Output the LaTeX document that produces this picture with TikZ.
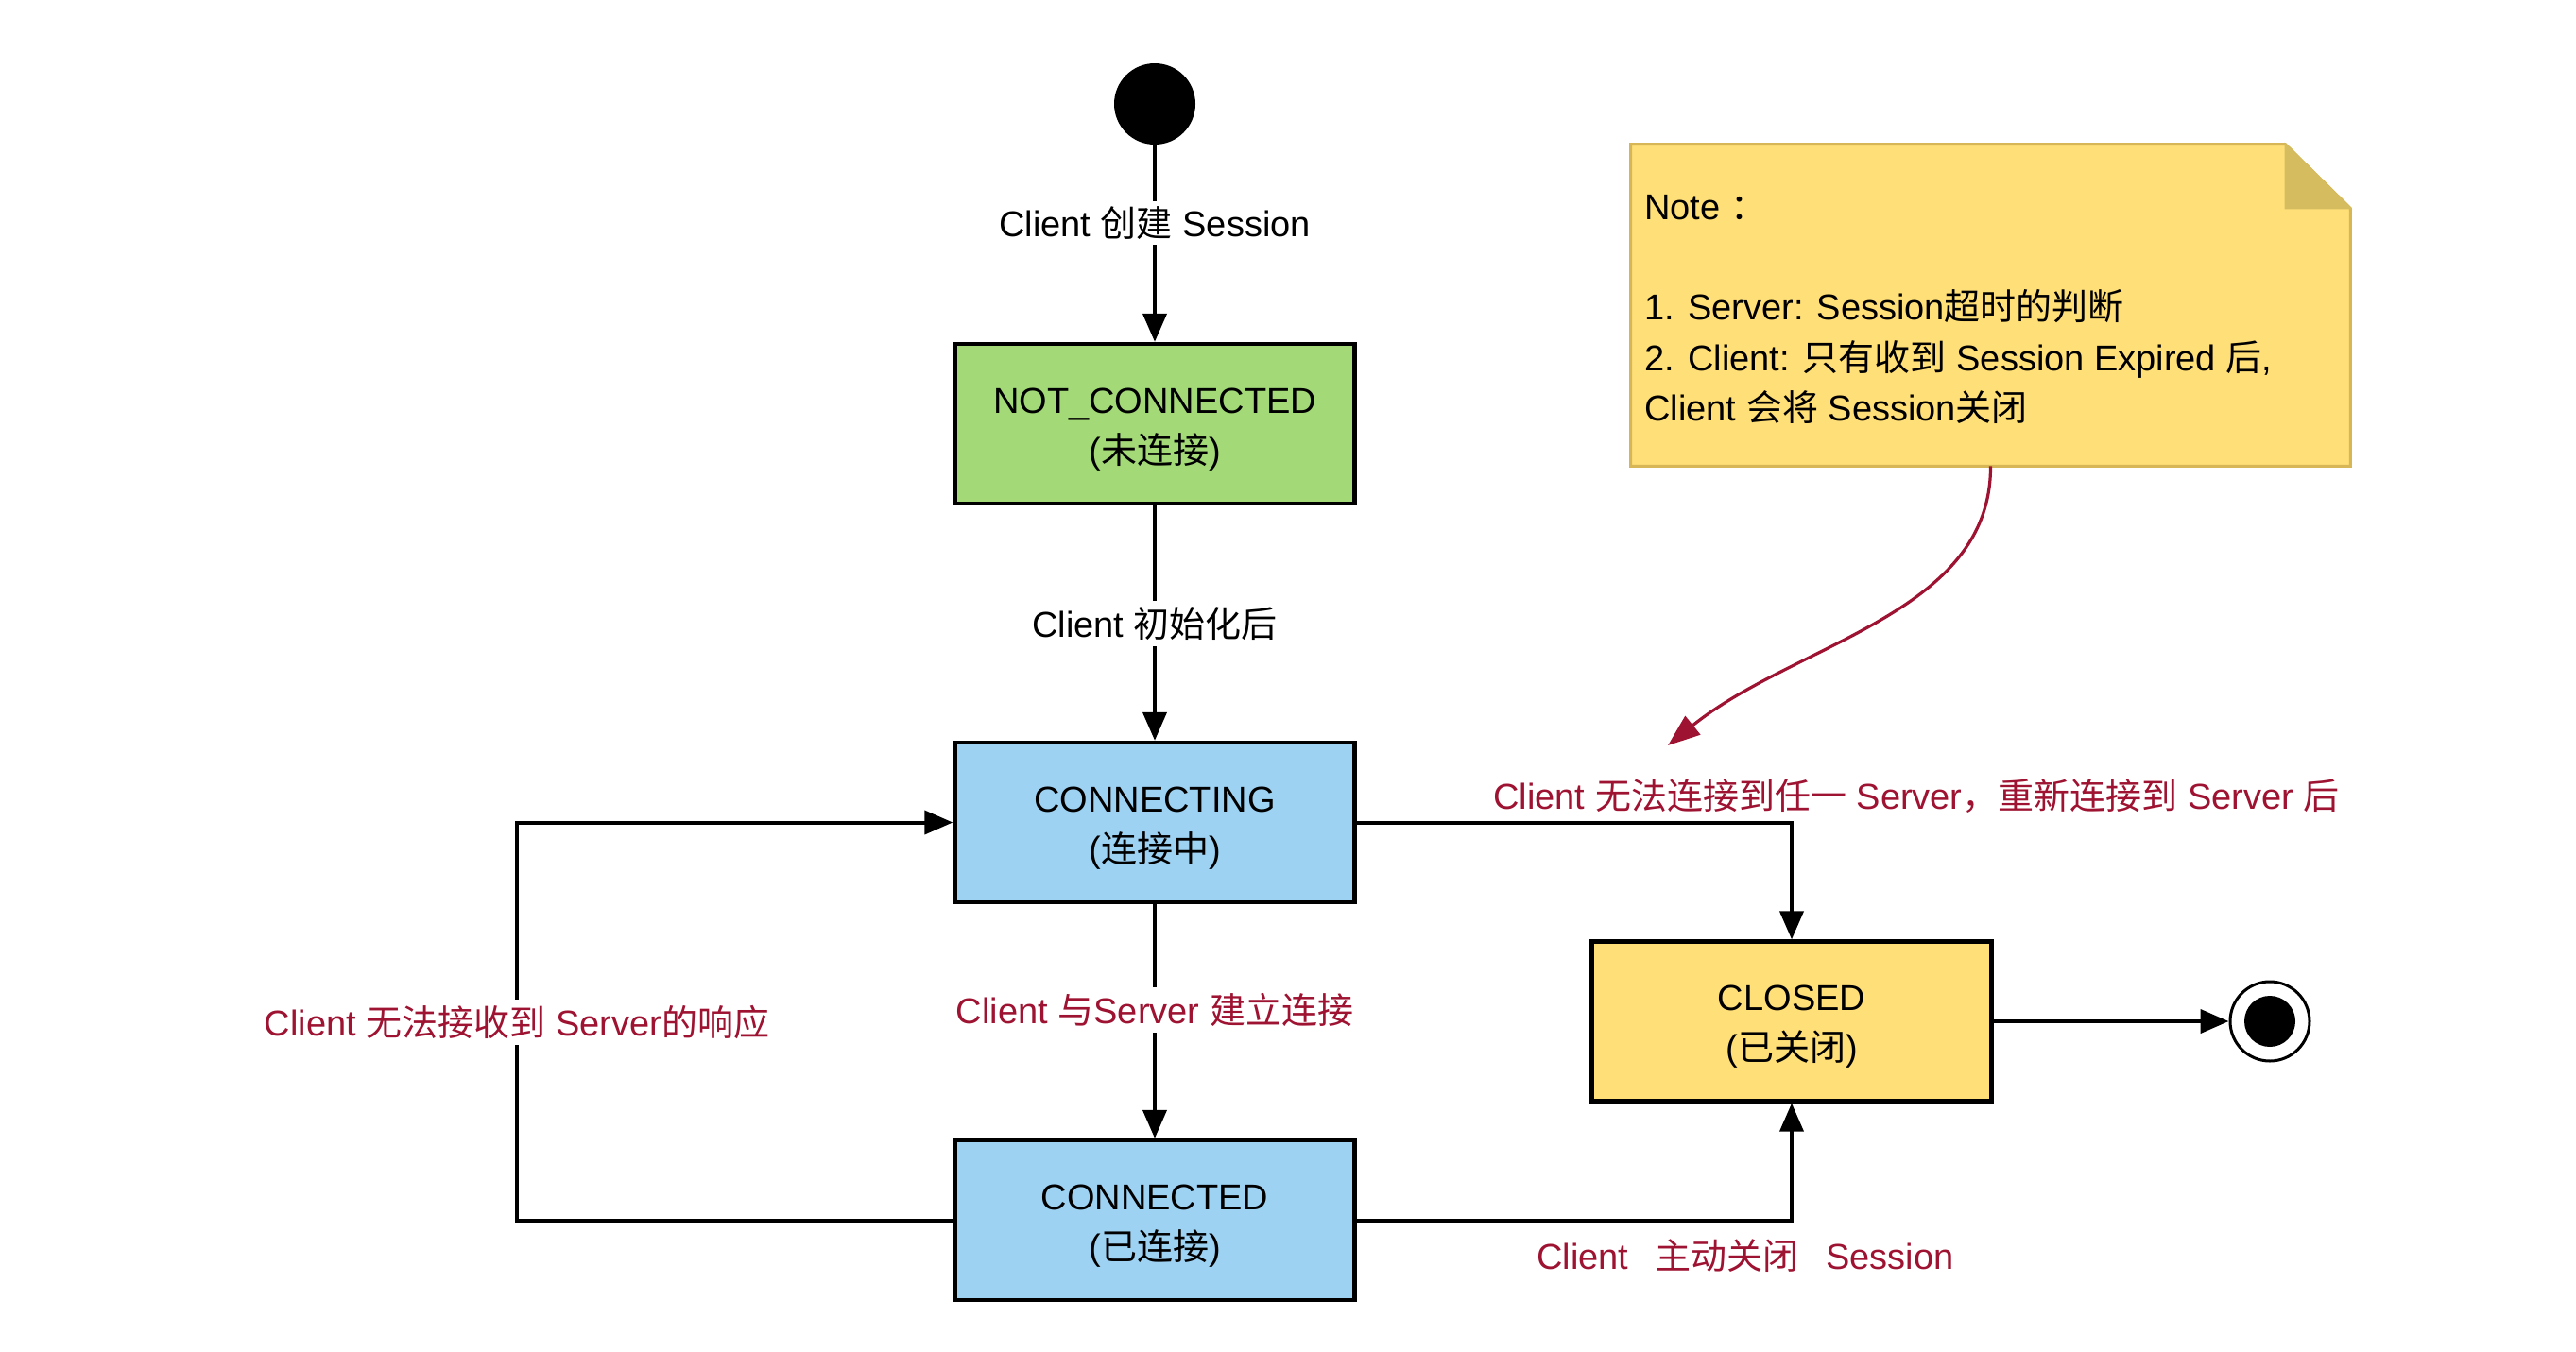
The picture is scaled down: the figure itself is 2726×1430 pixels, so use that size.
\documentclass[tikz,border=0pt]{standalone}
\usepackage{fontspec}
\setmainfont{Liberation Sans}
\newfontfamily\cjkfont{Noto Sans CJK SC}
\newcommand\zh[1]{{\cjkfont #1}}
\newcommand\topstrut{\rule{0pt}{19pt}}
\usetikzlibrary{arrows.meta}
\definecolor{greenfill}{HTML}{A3D977}
\definecolor{bluefill}{HTML}{9DD2F3}
\definecolor{yellowfill}{HTML}{FFDF77}
\definecolor{noteline}{HTML}{D6B656}
\definecolor{notefold}{HTML}{D5BC5E}
\definecolor{redtxt}{HTML}{9E1331}
\begin{document}
\begin{tikzpicture}[x=0.5pt,y=-0.5pt,
  txt/.style={font=\fontsize{19pt}{26.5pt}\selectfont},
  state/.style={txt, draw=black, line width=2.2pt, minimum width=211.5pt, minimum height=84.5pt, align=center, inner sep=0pt},
  conn/.style={line width=2pt, -{Triangle[length=15pt,width=12.5pt]}},
  lbl/.style={txt, fill=white, inner sep=3pt},
  redlbl/.style={lbl, text=redtxt},
  notetxt/.style={txt, anchor=base west, inner sep=0pt},
  redarrow/.style={draw=redtxt, line width=1.6pt, -{Triangle[length=17pt,width=12.5pt]}}
]
\useasboundingbox (0,0) rectangle (2726,1430);

% states
\node[circle, fill=black, minimum size=43pt, inner sep=0pt] (start) at (1222,110) {};
\node[state, fill=greenfill] (notc) at (1222,448.5) {\topstrut NOT\_CONNECTED\\(\zh{未连接})};
\node[state, fill=bluefill] (cting) at (1222,870.5) {\topstrut CONNECTING\\(\zh{连接中})};
\node[state, fill=bluefill] (cted) at (1222,1291.5) {\topstrut CONNECTED\\(\zh{已连接})};
\node[state, fill=yellowfill] (closed) at (1896,1081) {\topstrut CLOSED\\(\zh{已关闭})};
\node[circle, draw=black, fill=white, line width=1.5pt, minimum size=42pt, inner sep=0pt] (final) at (2402,1081) {};
\node[circle, fill=black, minimum size=27pt, inner sep=0pt] (finaldot) at (final.center) {};

% note
\node[minimum width=380.5pt, minimum height=170pt, inner sep=0pt] (note) at (2106.5,323) {};
\filldraw[fill=yellowfill, draw=noteline, line width=1.5pt]
  (note.north west) -- ([xshift=-34.5pt]note.north east) -- ([yshift=-34pt]note.north east)
  -- (note.south east) -- (note.south west) -- cycle;
\filldraw[fill=notefold, draw=notefold, line width=0.8pt]
  ([xshift=-34.5pt]note.north east) -- ([xshift=-34.5pt,yshift=-34pt]note.north east)
  -- ([yshift=-34pt]note.north east) -- cycle;
\node[notetxt] (n0) at (1740,232) {Note \zh{：}};
\node[notetxt] (n1) at (1740,338) {1. Server: Session\zh{超时的判断}};
\node[notetxt] (n2) at (1740,392) {2. Client: \zh{只有收到} Session Expired \zh{后},};
\node[notetxt] (n3) at (1740,445) {Client \zh{会将} Session\zh{关闭}};

% connectors
\coordinate (lb) at (547,1291.5);
\coordinate (tip) at (1765,789);
\draw[conn] (start) -- (notc);
\draw[conn] (notc) -- (cting);
\draw[conn] (cting) -- (cted);
\draw[conn] (cted.west) -- (lb) |- (cting.west);
\draw[conn] (cting.east) -| (closed.north);
\draw[conn] (cted.east) -| (closed.south);
\draw[conn] (closed.east) -- (final);
\draw[redarrow] (note.south) .. controls (2107,650) and (1900,680) .. (tip);

% labels
\node[lbl] (l1) at (1222,236) {Client \zh{创建} Session};
\node[lbl] (l2) at (1222,660) {Client \zh{初始化后}};
\node[redlbl] (l3) at (1222,1069) {Client \zh{与}Server \zh{建立连接}};
\node[redlbl] (l4) at (547,1082) {Client \zh{无法接收到} Server\zh{的响应}};
\node[txt, text=redtxt, inner sep=0pt] (l5) at (2028,842) {Client \zh{无法连接到任一} Server\zh{，重新连接到} Server \zh{后}};
\node[txt, text=redtxt, inner sep=0pt] (l6) at (1847,1329) {Client\hspace{0.75em}\zh{主动关闭}\hspace{0.75em}Session};
\end{tikzpicture}
\end{document}
